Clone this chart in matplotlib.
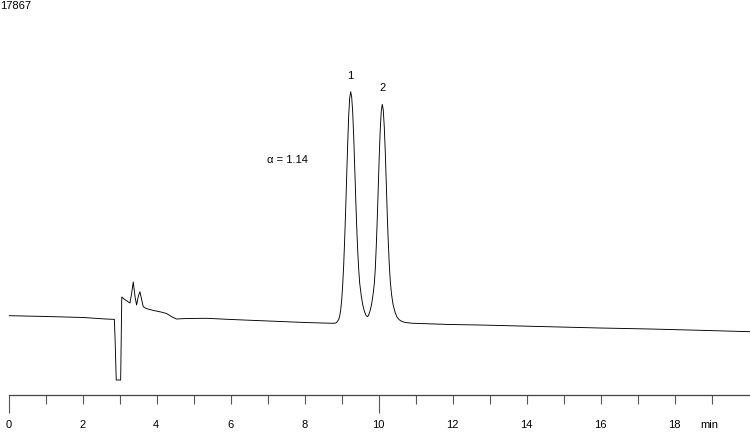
import matplotlib

matplotlib.use("Agg")
import matplotlib.pyplot as plt

# retention time (min) and detector signal (arbitrary units)
time_min = [
    0.00, 1.00, 2.00, 2.60, 2.80, 2.84, 2.86, 2.89, 3.01, 3.04,
    3.10, 3.26, 3.30, 3.35, 3.40, 3.44, 3.49, 3.53, 3.58, 3.62,
    3.70, 3.90, 4.10, 4.25, 4.40, 4.52, 4.80, 5.34, 6.00, 7.00,
    8.00, 8.749, 8.830, 8.857, 8.903, 8.930, 8.957, 8.984, 9.011, 9.038,
    9.065, 9.092, 9.119, 9.146, 9.173, 9.200, 9.227, 9.254, 9.281, 9.308,
    9.335, 9.362, 9.389, 9.416, 9.443, 9.470, 9.514, 9.554, 9.595, 9.635,
    9.676, 9.708, 9.749, 9.789, 9.830, 9.865, 9.892, 9.919, 9.946, 9.973,
    10.000, 10.027, 10.054, 10.081, 10.108, 10.135, 10.162, 10.189, 10.216, 10.243,
    10.270, 10.297, 10.330, 10.370, 10.424, 10.478, 10.532, 10.586, 10.641, 10.695,
    10.776, 10.911, 11.10, 11.91, 12.72, 13.80, 14.88, 15.96, 17.32, 18.67,
    20.02,
]
signal = [
    79.3, 78.5, 77.5, 76.0, 75.7, 75.5, 55.0, 15.0, 15.0, 98.0,
    96.0, 92.0, 100.0, 113.0, 98.0, 90.0, 99.0, 103.3, 95.0, 88.3,
    86.5, 84.5, 83.0, 81.5, 78.0, 76.0, 76.5, 76.7, 75.5, 74.0,
    72.5, 71.7, 72.0, 73.0, 75.5, 79.0, 85.0, 95.0, 110.0, 130.0,
    156.0, 186.0, 219.0, 251.0, 279.0, 297.0, 303.3, 298.0, 283.0, 259.0,
    229.0, 198.0, 169.0, 145.0, 126.0, 112.0, 99.0, 90.0, 84.0, 80.0,
    78.3, 79.5, 84.0, 90.0, 100.0, 111.0, 126.0, 149.0, 177.0, 208.0,
    240.0, 266.0, 284.0, 290.7, 285.0, 268.0, 243.0, 212.0, 180.0, 153.0,
    131.0, 114.0, 101.0, 91.0, 83.0, 78.0, 75.5, 74.0, 73.2, 72.6,
    72.2, 71.7, 71.5, 70.5, 70.0, 69.0, 68.0, 67.0, 66.0, 64.7,
    63.3,
]

peak_labels = ["1", "2"]
peak_times = [9.227, 10.081]
peak_heights = [303.3, 290.7]

tick_minutes = list(range(0, 20))
label_minutes = list(range(0, 20, 2))
long_tick_minutes = [0, 10]

run_id = "17867"
alpha_text = "α = 1.14"

fig = plt.figure(figsize=(7.5, 4.32), dpi=100)
ax = fig.add_axes([0, 0, 1, 1])
ax.set_xlim(-0.2514, 20.02)
ax.set_ylim(-37, 395)

ax.plot(time_min, signal, color="black", linewidth=0.65)

font = {"family": ["Liberation Sans", "DejaVu Sans"], "size": 8}

for lab, t, h in zip(peak_labels, peak_times, peak_heights):
    ax.text(t, h + 11, lab, ha="center", va="bottom", color="black", **font)

ax.text(6.97, 235, alpha_text, ha="left", va="center", color="black",
        **font)

# time axis
for side in ("left", "right", "top"):
    ax.spines[side].set_visible(False)
ax.spines["bottom"].set_position(("data", 0))
ax.spines["bottom"].set_bounds(0, 20.02)
ax.spines["bottom"].set_color("#444444")
ax.spines["bottom"].set_linewidth(0.9)
ax.set_yticks([])
ax.set_xticks(long_tick_minutes)
ax.set_xticks(tick_minutes, minor=True)
ax.set_xticklabels([])
ax.tick_params(axis="x", which="major", direction="out", length=13,
               width=0.8, color="#555555")
ax.tick_params(axis="x", which="minor", direction="out", length=6.5,
               width=0.8, color="#555555")

for t in label_minutes:
    ax.text(t - 0.03, -30, str(t), ha="center", va="center", color="black",
            **font)
ax.text(18.91, -30, "min", ha="center", va="center", color="black", **font)

fig.text(0.0, 1 - 6 / 432, run_id, ha="left", va="center", color="black",
         **font)

fig.savefig("out.png", dpi=100)
